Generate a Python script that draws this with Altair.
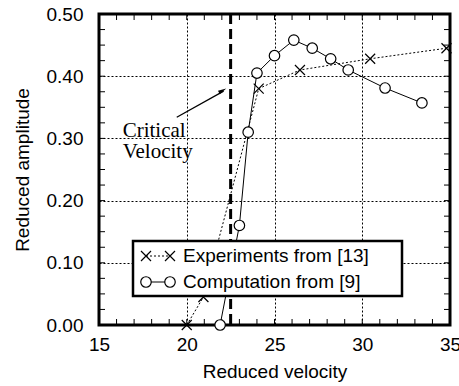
import altair as alt
import pandas as pd

# ---- data ----
exp_x = [20.0, 20.95, 24.1, 26.45, 30.45, 34.8]
exp_y = [0.0, 0.045, 0.38, 0.41, 0.428, 0.445]
comp_x = [21.9, 23.0, 23.5, 24.0, 25.0, 26.1, 27.15, 28.2, 29.2, 31.3, 33.4]
comp_y = [0.0, 0.16, 0.31, 0.405, 0.433, 0.458, 0.445, 0.428, 0.41, 0.381, 0.357]
critical_velocity = [22.5]
x_major = [15, 20, 25, 30, 35]
y_major = [0.0, 0.1, 0.2, 0.3, 0.4, 0.5]
x_minor = [16, 17, 18, 19, 20, 21, 22, 23, 24, 25, 26, 27, 28, 29, 30, 31, 32, 33, 34]
y_minor = [0.025, 0.05, 0.075, 0.1, 0.125, 0.15, 0.175, 0.2, 0.225, 0.25, 0.275,
           0.3, 0.325, 0.35, 0.375, 0.4, 0.425, 0.45, 0.475]
legend_labels = ["Experiments from [13]", "Computation from [9]"]
annotation_text = ["Critical\nVelocity"]
annotation_x = [16.35]
annotation_y = [0.302]
arrow_x = [19.43, 22.1]
arrow_y = [0.334, 0.376]
arrow_tip_x = [22.04]
arrow_tip_y = [0.377]

W, H = 351, 311
FONT = "Liberation Sans"
xs = alt.Scale(domain=[15, 35], nice=False, zero=False)
ys = alt.Scale(domain=[0, 0.5], nice=False, zero=False)
X_SHAPE = "M-1,-1L1,1M-1,1L1,-1"

exp_df = pd.DataFrame({"x": exp_x, "y": exp_y})
comp_df = pd.DataFrame({"x": comp_x, "y": comp_y})

XENC = alt.X("x:Q", scale=xs, axis=alt.Axis(
    values=x_major, title="Reduced velocity", grid=True, gridDash=[2, 2],
    gridColor="black", gridOpacity=1, gridWidth=1, ticks=False, domain=False,
    labelFont=FONT, labelFontSize=19, labelColor="black", labelPadding=10,
    labelFlush=False, labelOverlap=False,
    titleFont=FONT, titleFontSize=19, titleFontWeight="normal",
    titleColor="black", titlePadding=8))
YENC = alt.Y("y:Q", scale=ys, axis=alt.Axis(
    values=y_major, format=".2f", title="Reduced amplitude", grid=True,
    gridDash=[2, 2], gridColor="black", gridOpacity=1, gridWidth=1,
    ticks=False, domain=False, labelFont=FONT, labelFontSize=19,
    labelColor="black", labelPadding=16, labelFlush=False, labelOverlap=False,
    titleFont=FONT, titleFontSize=19, titleFontWeight="normal",
    titleColor="black", titlePadding=14))

xm = pd.DataFrame({"x": x_minor})
ym = pd.DataFrame({"y": y_minor})
tick_b = alt.Chart(xm).mark_rule(color="black", strokeWidth=1).encode(
    x=XENC, y=alt.value(H), y2=alt.value(H - 6))
tick_t = alt.Chart(xm).mark_rule(color="black", strokeWidth=1).encode(
    x=XENC, y=alt.value(0), y2=alt.value(6))
tick_l = alt.Chart(ym).mark_rule(color="black", strokeWidth=1).encode(
    y=YENC, x=alt.value(0), x2=alt.value(6))
tick_r = alt.Chart(ym).mark_rule(color="black", strokeWidth=1).encode(
    y=YENC, x=alt.value(W), x2=alt.value(W - 6))

crit = alt.Chart(pd.DataFrame({"x": critical_velocity})).mark_rule(
    color="black", strokeWidth=3, strokeDash=[10, 5]).encode(x=XENC)

exp_line = alt.Chart(exp_df).mark_line(color="black", strokeWidth=1, strokeDash=[2, 2]).encode(
    x=XENC, y=YENC)
exp_pts = alt.Chart(exp_df).mark_point(shape=X_SHAPE, filled=False, color="black",
                                       strokeWidth=1.2, size=100, opacity=1).encode(
    x=XENC, y=YENC)
comp_line = alt.Chart(comp_df).mark_line(color="black", strokeWidth=1).encode(
    x=XENC, y=YENC)
comp_pts = alt.Chart(comp_df).mark_point(shape="circle", filled=True, fill="white",
                                        stroke="black", strokeWidth=1.2, size=110,
                                        opacity=1, fillOpacity=1).encode(
    x=XENC, y=YENC)

# annotation
ann = alt.Chart(pd.DataFrame({"x": annotation_x, "y": annotation_y, "t": annotation_text})).mark_text(
    align="left", baseline="alphabetic", font="Liberation Serif", fontSize=21,
    lineHeight=21, lineBreak="\n", color="black").encode(
    x=XENC, y=YENC, text="t:N")
arrow_line = alt.Chart(pd.DataFrame({"x": arrow_x, "y": arrow_y})).mark_line(
    color="black", strokeWidth=1.3).encode(x=XENC, y=YENC)
arrow_head = alt.Chart(pd.DataFrame({"x": arrow_tip_x, "y": arrow_tip_y})).mark_point(
    shape="M0,-1L0.45,1L-0.45,1Z", filled=True, color="black", size=70, angle=62,
    opacity=1).encode(x=XENC, y=YENC)

# legend (decoration)
one = pd.DataFrame({"k": [0]})
leg_box = alt.Chart(one).mark_rect(fill="white", stroke="black", strokeWidth=2.5).encode(
    x=alt.value(34), x2=alt.value(303), y=alt.value(227), y2=alt.value(282))
leg_l1 = alt.Chart(one).mark_rule(color="black", strokeWidth=1, strokeDash=[2, 2]).encode(
    x=alt.value(47), x2=alt.value(71), y=alt.value(242))
leg_l2 = alt.Chart(one).mark_rule(color="black", strokeWidth=1).encode(
    x=alt.value(47), x2=alt.value(71), y=alt.value(268))
leg_x1 = alt.Chart(one).mark_point(shape=X_SHAPE, filled=False, color="black",
                                   strokeWidth=1.2, size=100, opacity=1).encode(
    x=alt.value(47), y=alt.value(242))
leg_x2 = alt.Chart(one).mark_point(shape=X_SHAPE, filled=False, color="black",
                                   strokeWidth=1.2, size=100, opacity=1).encode(
    x=alt.value(71), y=alt.value(242))
leg_c1 = alt.Chart(one).mark_point(shape="circle", filled=True, fill="white", stroke="black",
                                   strokeWidth=1.2, size=110, opacity=1).encode(
    x=alt.value(47), y=alt.value(268))
leg_c2 = alt.Chart(one).mark_point(shape="circle", filled=True, fill="white", stroke="black",
                                   strokeWidth=1.2, size=110, opacity=1).encode(
    x=alt.value(71), y=alt.value(268))
leg_t1 = alt.Chart(one).mark_text(align="left", baseline="alphabetic", font=FONT, fontSize=19,
                                  color="black", text=legend_labels[0]).encode(
    x=alt.value(84), y=alt.value(248))
leg_t2 = alt.Chart(one).mark_text(align="left", baseline="alphabetic", font=FONT, fontSize=19,
                                  color="black", text=legend_labels[1]).encode(
    x=alt.value(84), y=alt.value(274))

chart = alt.layer(
    tick_b, tick_t, tick_l, tick_r, crit, exp_line, comp_line, exp_pts, comp_pts,
    arrow_line, arrow_head, ann,
    leg_box, leg_l1, leg_l2, leg_x1, leg_x2, leg_c1, leg_c2, leg_t1, leg_t2,
).properties(
    width=W, height=H,
    autosize=alt.AutoSizeParams(type="none"),
    padding={"left": 99, "top": 14, "right": 9, "bottom": 61},
    background="white",
).configure_view(stroke="black", strokeWidth=3)

chart.save("out.html", embed_options={"renderer": "svg", "actions": False})
